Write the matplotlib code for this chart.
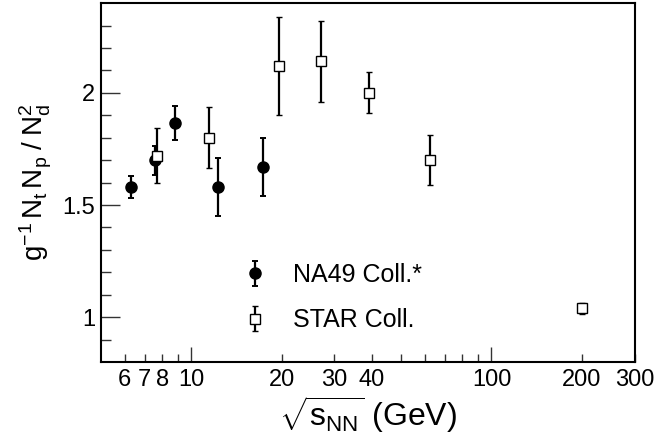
import numpy as np
import matplotlib
matplotlib.use("Agg")
import matplotlib.pyplot as plt
from matplotlib.ticker import FixedLocator, FuncFormatter, NullFormatter

plt.rcParams['font.family'] = ['Liberation Sans', 'DejaVu Sans']
plt.rcParams['mathtext.fontset'] = 'custom'
plt.rcParams['mathtext.rm'] = 'Liberation Sans'
plt.rcParams['mathtext.it'] = 'Liberation Sans'
plt.rcParams['mathtext.bf'] = 'Liberation Sans:bold'

# NA49 (filled circles)
na49_x = [6.3, 7.6, 8.8, 12.3, 17.3]
na49_y = [1.58, 1.70, 1.865, 1.58, 1.67]
na49_err = [0.05, 0.065, 0.076, 0.13, 0.13]

# STAR (open squares)
star_x = [7.7, 11.5, 19.6, 27.0, 39.0, 62.4, 200.0]
star_y = [1.72, 1.80, 2.12, 2.14, 2.00, 1.70, 1.04]
star_err = [0.123, 0.135, 0.217, 0.18, 0.092, 0.112, 0.025]

x_labels = [6, 7, 8, 10, 20, 30, 40, 100, 200, 300]

fig = plt.figure(figsize=(6.55, 4.4), dpi=100)
ax = fig.add_axes([0.154, 0.177, 0.815, 0.816])

ax.errorbar(na49_x, na49_y, yerr=na49_err, fmt='o', color='black',
            ms=8, elinewidth=1.6, capsize=2.5, capthick=1.4,
            label='NA49 Coll.*')
ax.errorbar(star_x, star_y, yerr=star_err, fmt='s', color='black',
            mfc='white', mec='black', mew=1.0, ms=7.5, elinewidth=1.6,
            capsize=2.5, capthick=1.4, label='STAR Coll.')

ax.set_xscale('log')
ax.set_xlim(5, 300)
ax.set_ylim(0.8, 2.4)

# x ticks: long at decades, short elsewhere, ROOT style labels
ax.xaxis.set_major_locator(FixedLocator([10, 100]))
minors = [6, 7, 8, 9, 20, 30, 40, 50, 60, 70, 80, 90, 200, 300]
ax.xaxis.set_minor_locator(FixedLocator(minors))
fmt = FuncFormatter(lambda v, p: '%d' % round(v) if round(v) in x_labels else '')
ax.xaxis.set_major_formatter(fmt)
ax.xaxis.set_minor_formatter(fmt)

ax.yaxis.set_major_locator(FixedLocator([1.0, 1.5, 2.0]))
ax.yaxis.set_minor_locator(FixedLocator(np.arange(0.9, 2.35, 0.1)))
ax.yaxis.set_major_formatter(FuncFormatter(lambda v, p: '%g' % v))
ax.yaxis.set_minor_formatter(NullFormatter())

ax.tick_params(which='both', direction='in', labelsize=17, width=1.0,
               top=False, right=False, color='#333333')
ax.tick_params(axis='x', which='major', length=11, pad=5)
ax.tick_params(axis='x', which='minor', length=6, pad=5)
ax.tick_params(axis='y', which='major', length=14, pad=4)
ax.tick_params(axis='y', which='minor', length=7)

for s in ax.spines.values():
    s.set_linewidth(1.5)

ax.set_xlabel(r'$\sqrt{\mathrm{s_{NN}}}$ (GeV)', fontsize=23, labelpad=2)
ax.set_ylabel(r'$\mathrm{g^{-1}\,N_t\,N_p\;/\;N_d^2}$', fontsize=20, labelpad=6)

ax.legend(loc='lower left', bbox_to_anchor=(0.2, 0.02), frameon=False,
          fontsize=18, handletextpad=0.5, labelspacing=0.85, numpoints=1)

fig.savefig('out.png', dpi=100)
